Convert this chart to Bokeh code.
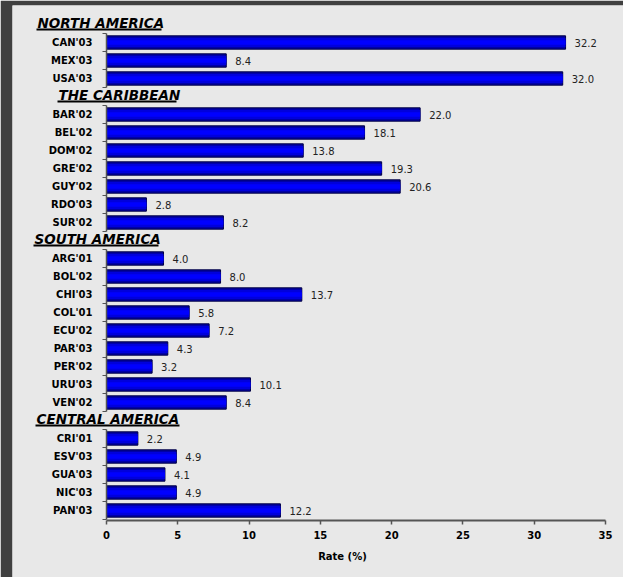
from bokeh.plotting import figure
from bokeh.models import Range1d, FixedTicker, ColumnDataSource
from bokeh.core.properties import value
from bokeh.embed import file_html
from bokeh.resources import INLINE

# ---- data ----
group_names = ["NORTH AMERICA", "THE CARIBBEAN", "SOUTH AMERICA", "CENTRAL AMERICA"]
na_codes = ["CAN'03", "MEX'03", "USA'03"]
na_rates = [32.2, 8.4, 32.0]
car_codes = ["BAR'02", "BEL'02", "DOM'02", "GRE'02", "GUY'02", "RDO'03", "SUR'02"]
car_rates = [22.0, 18.1, 13.8, 19.3, 20.6, 2.8, 8.2]
sa_codes = ["ARG'01", "BOL'02", "CHI'03", "COL'01", "ECU'02", "PAR'03", "PER'02", "URU'03", "VEN'02"]
sa_rates = [4.0, 8.0, 13.7, 5.8, 7.2, 4.3, 3.2, 10.1, 8.4]
ca_codes = ["CRI'01", "ESV'03", "GUA'03", "NIC'03", "PAN'03"]
ca_rates = [2.2, 4.9, 4.1, 4.9, 12.2]
x_ticks = [0, 5, 10, 15, 20, 25, 30, 35]
x_label = "Rate (%)"

groups = [(na_codes, na_rates), (car_codes, car_rates), (sa_codes, sa_rates), (ca_codes, ca_rates)]

# ---- layout / style constants ----
W, H = 623, 577
BORDER_L, BORDER_T = 12, 5
PPU = 14.257                 # pixels per rate unit
AXIS_X = 106                 # page x of rate 0
ROW0_Y = 42                  # page y of first bar centre
ROW_PX = 18.0
text_offsets = [-69, -48, -72, -70]
underline_px = [(-70, 55), (-49, 70), (-73, 52), (-71, 73)]
BG = "#e8e8e8"
DARK = "#404040"
FONT = value("DejaVu Sans")

# build rows: each group gets one header slot followed by its items
rows, codes, rates = [], [], []
header_rows, seg_top, seg_bot, bounds = [], [], [], []
r = -1
for (cs, vs) in groups:
    header_rows.append(r)
    r += 1
    first = r
    for c, v in zip(cs, vs):
        rows.append(r); codes.append(c); rates.append(v)
        r += 1
    last = r - 1
    seg_top.append(first - 0.5); seg_bot.append(last + 0.5)
    bounds.extend([first - 0.5 + k for k in range(last - first + 2)])

labels = [f"{v:.1f}" for v in rates]
src = ColumnDataSource(dict(y=rows, code=codes, rate=rates, lab=labels))

x0 = -(AXIS_X - BORDER_L) / PPU
x1 = (W - AXIS_X) / PPU
y_top = (BORDER_T - ROW0_Y) / ROW_PX
y_bottom = (H - ROW0_Y) / ROW_PX
axis_row = rows[-1] + 0.5 + 0.5 / ROW_PX

p = figure(width=W, height=H, output_backend="svg", toolbar_location=None,
           x_range=Range1d(x0, x1), y_range=Range1d(y_bottom, y_top),
           y_axis_location=None, min_border_left=BORDER_L, min_border_right=0,
           min_border_top=BORDER_T, min_border_bottom=0)
p.background_fill_color = BG
p.border_fill_color = DARK
p.outline_line_color = None
p.grid.visible = False

xa = p.xaxis[0]
xa.fixed_location = axis_row
xa.ticker = FixedTicker(ticks=x_ticks)
xa.bounds = (0, 35)
xa.axis_line_color = "#555555"
xa.axis_line_width = 2
xa.major_tick_line_color = "#555555"
xa.major_tick_line_width = 1.5
xa.major_tick_out = 4
xa.major_tick_in = 0
xa.minor_tick_line_color = None
xa.major_label_text_font = "DejaVu Sans"
xa.major_label_text_font_style = "bold"
xa.major_label_text_font_size = "10px"
xa.major_label_text_color = "#000000"
xa.major_label_standoff = 7

# axis title (placed as in the reference, left of the axis centre)
p.text(x=[16.55], y=[axis_row], text=[x_label], y_offset=36, text_align="center",
       text_baseline="middle", text_font=FONT, text_font_style="bold",
       text_font_size="10px", text_color="#000000")

# bars (layered for a shaded look)
p.hbar(y="y", left=0, right="rate", height=0.74, source=src,
       fill_color="#0000a8", line_color="#000040", line_width=1)
p.hbar(y="y", left=0, right="rate", height=0.5, source=src,
       fill_color="#0000dc", line_color=None)
p.hbar(y="y", left=0, right="rate", height=0.26, source=src,
       fill_color="#0000ff", line_color=None)

# value labels
p.text(x="rate", y="y", text="lab", source=src, x_offset=9,
       text_baseline="middle", text_align="left", text_font=FONT,
       text_font_size="10px", text_color="#222222")

# category labels
p.text(x=0, y="y", text="code", source=src, x_offset=-14,
       text_baseline="middle", text_align="right", text_font=FONT,
       text_font_style="bold", text_font_size="10px", text_color="#000000")

# group axis lines and boundary ticks
p.segment(x0=0, y0=seg_top, x1=0, y1=seg_bot, line_color="#555555", line_width=1.5)
tick_len = 4 / PPU
p.segment(x0=[-tick_len] * len(bounds), y0=bounds, x1=[0] * len(bounds), y1=bounds,
          line_color="#555555", line_width=1.2)

# group headers with underline
for name, hr, off, (ul0, ul1) in zip(group_names, header_rows, text_offsets, underline_px):
    p.text(x=[0], y=[hr], text=[name], x_offset=off, y_offset=-1.5,
           text_baseline="middle", text_align="left", text_font=FONT,
           text_font_style="bold italic", text_font_size="13.5px", text_color="#000000")
    p.segment(x0=[ul0 / PPU], y0=[hr + 5 / ROW_PX], x1=[ul1 / PPU], y1=[hr + 5 / ROW_PX],
              line_color="#000000", line_width=1.8)

open("out.html", "w").write(file_html(p, INLINE))
